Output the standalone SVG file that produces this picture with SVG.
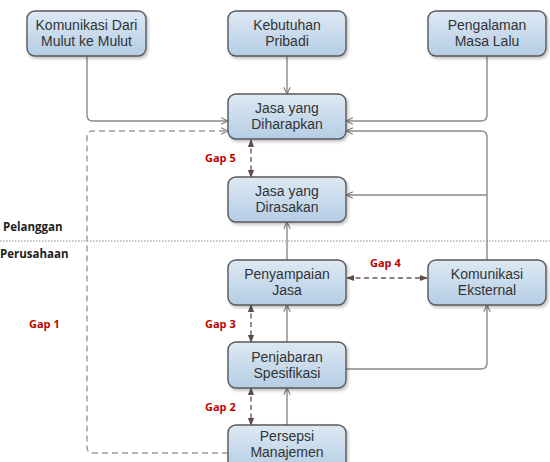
<svg xmlns="http://www.w3.org/2000/svg" width="550" height="462" viewBox="0 0 550 462">
<defs>
<linearGradient id="bg" x1="0" y1="0" x2="0" y2="1">
<stop offset="0" stop-color="#dde9f4"/>
<stop offset="1" stop-color="#b5cde5"/>
</linearGradient>
<filter id="sh" x="-10%" y="-10%" width="125%" height="130%">
<feDropShadow dx="1.5" dy="2" stdDeviation="1.5" flood-color="#000" flood-opacity="0.25"/>
</filter>
<marker id="open" viewBox="0 0 10 10" refX="9.5" refY="5" markerWidth="8" markerHeight="8" orient="auto" markerUnits="userSpaceOnUse">
<path d="M1,1 L9.5,5 L1,9" fill="none" stroke="#7a7a7a" stroke-width="1.4"/>
</marker>
<marker id="tri" viewBox="0 0 10 10" refX="9" refY="5" markerWidth="8" markerHeight="8" orient="auto-start-reverse" markerUnits="userSpaceOnUse">
<path d="M0,1 L10,5 L0,9 z" fill="#5e4c4c"/>
</marker>
</defs>
<style>
.box{fill:url(#bg);stroke:#595959;stroke-width:1.4;filter:url(#sh)}
.t{font-family:"Liberation Sans",Arial,sans-serif;font-size:14px;fill:#333;text-anchor:middle}
.gap{font-family:"Open Sans","Noto Sans","Liberation Sans",sans-serif;font-size:11px;font-weight:bold;fill:#c00000}
.side{font-family:"Open Sans","Noto Sans","Liberation Sans",sans-serif;font-size:11.5px;font-weight:bold;fill:#222}
.c{fill:none;stroke:#8a8a8a;stroke-width:1.4;marker-end:url(#open)}
.d{fill:none;stroke:#9a9a9a;stroke-width:1.4;stroke-dasharray:6 4;marker-end:url(#open)}
.g{fill:none;stroke:#6a5a5a;stroke-width:1.4;stroke-dasharray:5 3.5;marker-start:url(#tri);marker-end:url(#tri)}
</style>
<line x1="0" y1="241" x2="550" y2="241" stroke="#8a8a8a" stroke-width="1" stroke-dasharray="1.5 1.5"/>
<text class="side" x="3" y="231">Pelanggan</text>
<text class="side" x="0" y="258">Perusahaan</text>
<g id="connectors">
<path class="c" d="M87,56 V115 Q87,121 93,121 H228"/>
<path class="d" d="M228,453 H93 Q87,453 87,447 V137 Q87,131 93,131 H228"/>
<path class="c" d="M287,56 V94"/>
<path class="c" d="M487,56 V115 Q487,121 481,121 H346"/>
<path class="c" d="M487,260 V137 Q487,131 481,131 H346"/>
<path class="c" d="M487,195 H346"/>
<path class="c" d="M287,260 V222"/>
<path class="c" d="M287,342 V305"/>
<path class="c" d="M287,425 V388"/>
<path class="c" d="M346,369 H481 Q487,369 487,363 V305"/>
<path class="g" d="M251,140 V177"/>
<path class="g" d="M251,305 V342"/>
<path class="g" d="M251,388 V425"/>
<path class="g" d="M347,278 H427"/>
</g>
<g id="n1"><rect class="box" x="27" y="11" width="119" height="45" rx="8"/><text class="t" x="86.5" y="30">Komunikasi Dari</text><text class="t" x="86.5" y="46">Mulut ke Mulut</text></g>
<g id="n2"><rect class="box" x="228" y="11" width="118" height="45" rx="8"/><text class="t" x="287" y="30">Kebutuhan</text><text class="t" x="287" y="46">Pribadi</text></g>
<g id="n3"><rect class="box" x="428" y="11" width="118" height="45" rx="8"/><text class="t" x="487" y="30">Pengalaman</text><text class="t" x="487" y="46">Masa Lalu</text></g>
<g id="n4"><rect class="box" x="228" y="94" width="118" height="45" rx="8"/><text class="t" x="287" y="113">Jasa yang</text><text class="t" x="287" y="129">Diharapkan</text></g>
<g id="n5"><rect class="box" x="228" y="177" width="118" height="45" rx="8"/><text class="t" x="287" y="196">Jasa yang</text><text class="t" x="287" y="212">Dirasakan</text></g>
<g id="n6"><rect class="box" x="228" y="260" width="118" height="45" rx="8"/><text class="t" x="287" y="279">Penyampaian</text><text class="t" x="287" y="295">Jasa</text></g>
<g id="n7"><rect class="box" x="428" y="260" width="118" height="45" rx="8"/><text class="t" x="487" y="279">Komunikasi</text><text class="t" x="487" y="295">Eksternal</text></g>
<g id="n8"><rect class="box" x="228" y="342" width="118" height="46" rx="8"/><text class="t" x="287" y="362">Penjabaran</text><text class="t" x="287" y="378">Spesifikasi</text></g>
<g id="n9"><rect class="box" x="228" y="425" width="118" height="46" rx="8"/><text class="t" x="287" y="441">Persepsi</text><text class="t" x="287" y="457">Manajemen</text></g>
<g id="labels">
<text class="gap" x="205" y="162">Gap 5</text>
<text class="gap" x="205" y="328">Gap 3</text>
<text class="gap" x="205" y="411">Gap 2</text>
<text class="gap" x="29" y="328">Gap 1</text>
<text class="gap" x="370" y="267">Gap 4</text>
</g>
</svg>
